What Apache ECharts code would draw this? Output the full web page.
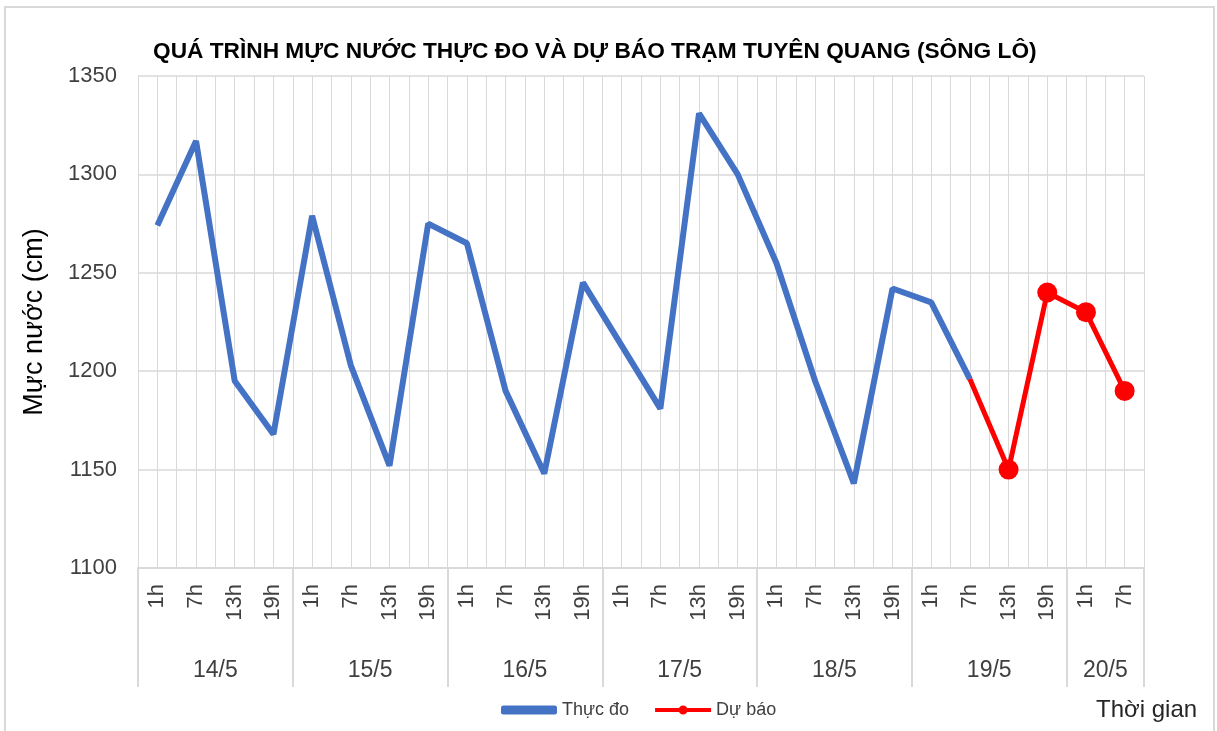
<!doctype html>
<html>
    <head>
        <meta charset="utf-8">
        <title>Tuyên Quang - mực nước</title>
        <style>
            html, body { margin: 0; padding: 0; background: #fff; }
            #main { width: 1217px; height: 731px; }
        </style>
    </head>
    <body>
        <div id="main"></div>
        <script src="https://cdn.jsdelivr.net/npm/echarts@6/dist/echarts.min.js"></script>
        <script>
            // 6-hourly observations, 14/5 1h .. 20/5 7h
            var hours = ['1h', '7h', '13h', '19h', '1h', '7h', '13h', '19h', '1h', '7h', '13h', '19h',
                         '1h', '7h', '13h', '19h', '1h', '7h', '13h', '19h', '1h', '7h', '13h', '19h',
                         '1h', '7h'];
            var days = ['14/5', '15/5', '16/5', '17/5', '18/5', '19/5', '20/5'];
            var slotsPerDay = [4, 4, 4, 4, 4, 4, 2];

            // Thực đo (measured), up to 19/5 7h
            var measured = [1274, 1317, 1195, 1168, 1279, 1203, 1152, 1275, 1265, 1190, 1148, 1245,
                            1213, 1181, 1331, 1300, 1255, 1195, 1143, 1242, 1235, 1196];
            // Dự báo (forecast), starts from the last measured point
            var forecast = [1196, 1150, 1240, 1230, 1190];

            var yTicks = [1100, 1150, 1200, 1250, 1300, 1350];

            var FONT = '"Liberation Sans", Arial, sans-serif';
            var GRID_COLOR = '#d9d9d9';
            var TEXT_COLOR = '#404040';

            // day boundaries and centres in slot units
            var bounds = [0];
            var centres = [];
            slotsPerDay.forEach(function (n) {
                var last = bounds[bounds.length - 1];
                centres.push(last + n / 2);
                bounds.push(last + n);
            });
            var nSlots = hours.length;

            var measuredData = hours.map(function (h, i) {
                return i < measured.length ? measured[i] : null;
            });
            var fcStart = measured.length - 1;
            var forecastData = hours.map(function (h, i) {
                var k = i - fcStart;
                if (k < 0 || k >= forecast.length) return null;
                return k === 0 ? { value: forecast[k], symbol: 'none' } : forecast[k];
            });

            // legend icon: line with a dot in the middle (same winding so the dot is filled)
            var lineDotIcon = 'path://M0,2.5 L56,2.5 L56,6.5 L0,6.5 Z ' +
                'M23.5,4.5 A4.5,4.5 0 1 1 32.5,4.5 A4.5,4.5 0 1 1 23.5,4.5 Z';

            var chart = echarts.init(document.getElementById('main'));

            chart.setOption({
                animation: false,
                textStyle: { fontFamily: FONT },
                title: [{
                    text: 'QUÁ TRÌNH MỰC NƯỚC THỰC ĐO VÀ DỰ BÁO TRẠM TUYÊN QUANG (SÔNG LÔ)',
                    left: 148,
                    top: 35,
                    textStyle: { fontFamily: FONT, fontSize: 22.7, fontWeight: 'bold', color: '#000' }
                }, {
                    text: 'Thời gian',
                    left: 1091,
                    top: 693,
                    textStyle: { fontFamily: FONT, fontSize: 24, fontWeight: 'normal', color: '#262626' }
                }],
                graphic: [{
                    type: 'rect',
                    shape: { x: 5, y: 7, width: 1209, height: 740 },
                    style: { fill: 'none', stroke: GRID_COLOR, lineWidth: 2 },
                    silent: true,
                    z: -10
                }],
                legend: {
                    left: 496,
                    top: 696,
                    itemWidth: 56,
                    itemHeight: 9,
                    itemGap: 26,
                    textStyle: { fontFamily: FONT, fontSize: 18, color: TEXT_COLOR },
                    data: [
                        { name: 'Thực đo', icon: 'roundRect' },
                        { name: 'Dự báo', icon: lineDotIcon }
                    ]
                },
                grid: { left: 138, right: 73, top: 76, bottom: 163 },
                xAxis: [{
                    type: 'category',
                    data: hours,
                    position: 'bottom',
                    boundaryGap: true,
                    axisLine: { onZero: false, lineStyle: { color: GRID_COLOR, width: 2 } },
                    axisTick: { show: false },
                    splitLine: { show: false },
                    axisLabel: {
                        rotate: 90,
                        interval: 0,
                        margin: 16,
                        fontSize: 22,
                        color: TEXT_COLOR
                    }
                }, {
                    // light vertical grid at every half slot
                    type: 'value',
                    position: 'bottom',
                    min: 0,
                    max: nSlots,
                    interval: 0.5,
                    axisLine: { show: false, onZero: false },
                    axisTick: { show: false },
                    axisLabel: { show: false },
                    splitLine: { show: true, lineStyle: { color: GRID_COLOR, width: 1 } }
                }, {
                    // long separators between days
                    type: 'value',
                    position: 'bottom',
                    min: 0,
                    max: nSlots,
                    interval: 4,
                    axisLine: { show: false, onZero: false },
                    axisTick: {
                        show: true,
                        length: 119,
                        customValues: bounds,
                        lineStyle: { color: GRID_COLOR, width: 2 }
                    },
                    axisLabel: { show: false },
                    splitLine: { show: false }
                }, {
                    // day labels
                    type: 'value',
                    position: 'bottom',
                    min: 0,
                    max: nSlots,
                    interval: 1,
                    axisLine: { show: false, onZero: false },
                    axisTick: { show: false },
                    splitLine: { show: false },
                    axisLabel: {
                        margin: 91,
                        fontSize: 23,
                        color: TEXT_COLOR,
                        formatter: function (v) {
                            var k = centres.indexOf(v);
                            return k >= 0 ? days[k] : '';
                        }
                    }
                }],
                yAxis: {
                    type: 'value',
                    min: yTicks[0],
                    max: yTicks[yTicks.length - 1],
                    interval: yTicks[1] - yTicks[0],
                    name: 'Mực nước (cm)',
                    nameLocation: 'middle',
                    nameGap: 90,
                    nameTextStyle: { fontFamily: FONT, fontSize: 27, color: '#000' },
                    axisLine: { show: false },
                    axisTick: { show: false },
                    axisLabel: {
                        margin: 21,
                        fontSize: 22,
                        color: TEXT_COLOR,
                        formatter: function (v) { return String(v); }
                    },
                    splitLine: { lineStyle: { color: GRID_COLOR, width: 1.5 } }
                },
                series: [{
                    name: 'Thực đo',
                    type: 'line',
                    xAxisIndex: 0,
                    data: measuredData,
                    symbol: 'none',
                    color: '#4472C4',
                    lineStyle: { color: '#4472C4', width: 6 },
                    z: 3
                }, {
                    name: 'Dự báo',
                    type: 'line',
                    xAxisIndex: 0,
                    data: forecastData,
                    symbol: 'circle',
                    symbolSize: 20,
                    color: '#FF0000',
                    itemStyle: { color: '#FF0000' },
                    lineStyle: { color: '#FF0000', width: 5 },
                    z: 4
                }]
            });

            window.onresize = chart.resize;
        </script>
    </body>
</html>
